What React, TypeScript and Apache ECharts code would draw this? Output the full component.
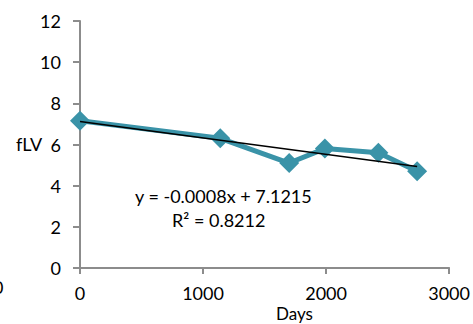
import React, { useEffect, useRef } from "react";
import * as echarts from "echarts";

const days = [0, 1140, 1700, 1990, 2425, 2740];
const flv = [7.15, 6.3, 5.1, 5.8, 5.6, 4.7];
const slope = -0.0008;
const intercept = 7.1215;
const equationText = "y = -0.0008x + 7.1215";
const r2Text = "R² = 0.8212";
const yAxisName = "fLV";
const xAxisName = "Days";

export default function App() {
  const ref = useRef<HTMLDivElement>(null);
  useEffect(() => {
    if (!ref.current) return;
    const chart = echarts.init(ref.current, null, { renderer: "svg" });
    const font = "Lato, 'Open Sans', sans-serif";
    const xEnd = days[days.length - 1];
    const trend = [
      [0, intercept],
      [xEnd, slope * xEnd + intercept],
    ];
    chart.setOption({
      animation: false,
      backgroundColor: "#fff",
      grid: { left: 80, right: 22, top: 21, bottom: 56 },
      xAxis: {
        type: "value",
        min: 0,
        max: 3000,
        interval: 1000,
        axisLine: { show: true, lineStyle: { color: "#8c8c8c", width: 2 } },
        axisTick: { show: true, length: 6, lineStyle: { color: "#8c8c8c", width: 2 } },
        splitLine: { show: false },
        axisLabel: {
          color: "#000",
          fontSize: 18,
          fontFamily: font,
          margin: 16,
          formatter: (v: number) => String(v),
        },
      },
      yAxis: {
        type: "value",
        min: 0,
        max: 12,
        interval: 2,
        axisLine: { show: true, lineStyle: { color: "#8c8c8c", width: 2 } },
        axisTick: { show: true, length: 7, lineStyle: { color: "#8c8c8c", width: 2 } },
        splitLine: { show: false },
        axisLabel: { color: "#000", fontSize: 18, fontFamily: font, margin: 19 },
      },
      graphic: [
        {
          type: "text",
          left: 16,
          top: 135,
          style: { text: yAxisName, fontSize: 18, fontFamily: font, fill: "#000" },
        },
        {
          type: "text",
          left: 276,
          top: 305,
          style: { text: xAxisName, fontSize: 17, fontFamily: font, fill: "#000" },
        },
        {
          type: "text",
          left: -7,
          top: 278,
          style: { text: "0", fontSize: 18, fontFamily: font, fill: "#000" },
        },
        {
          type: "text",
          left: 135,
          top: 187,
          style: { text: equationText, fontSize: 18, fontFamily: font, fill: "#000" },
        },
        {
          type: "text",
          left: 172,
          top: 211,
          style: { text: r2Text, fontSize: 18, fontFamily: font, fill: "#000" },
        },
      ],
      series: [
        {
          type: "line",
          data: days.map((d, i) => [d, flv[i]]),
          lineStyle: { color: "#3A93A8", width: 5 },
          itemStyle: { color: "#3A93A8" },
          symbol: "diamond",
          symbolSize: [20, 20],
          showSymbol: true,
          z: 2,
        },
        {
          type: "line",
          data: trend,
          lineStyle: { color: "#000", width: 1.5 },
          symbol: "none",
          z: 3,
        },
      ],
    });
    return () => chart.dispose();
  }, []);
  return <div ref={ref} style={{ width: 473, height: 324, position: "absolute", left: 0, top: 0 }} />;
}
